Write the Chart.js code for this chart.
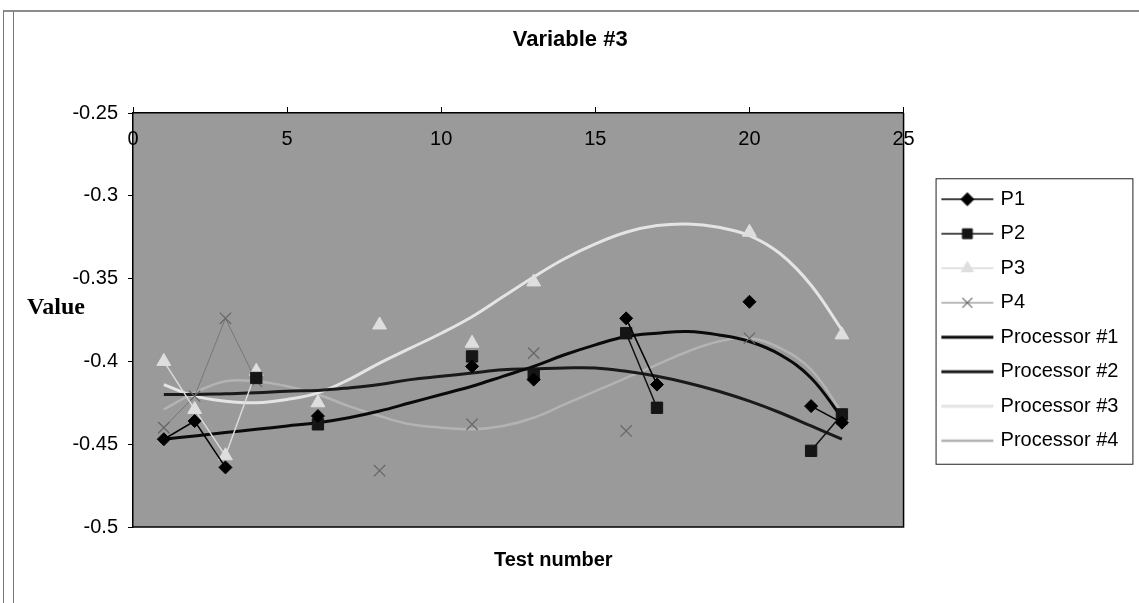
<!DOCTYPE html>
<html>
<head>
<meta charset="utf-8">
<title>Variable #3</title>
<script src="https://cdn.jsdelivr.net/npm/chart.js@4.4.1/dist/chart.umd.min.js"></script>
<style>
	html, body { margin: 0; padding: 0; background: #fff; }
	#wrap { position: relative; width: 1139px; height: 603px; overflow: hidden; }
	#frame { position: absolute; left: 3px; top: 10px; right: -5px; bottom: -5px; border-top: 2px solid #8c8c8c; border-left: 1px solid #777; }
	#frame2 { position: absolute; left: 13px; top: 11px; bottom: -5px; border-left: 1px solid #777; }
	canvas { position: absolute; left: 0; top: 0; }
</style>
</head>
<body>
<div id="wrap">
	<div id="frame"></div>
	<div id="frame2"></div>
	<canvas id="chart" width="1139" height="603"></canvas>
</div>
<script>
// test numbers 1..23, null where a processor has no reading
const tests = [1, 2, 3, 4, 5, 6, 7, 8, 9, 10, 11, 12, 13, 14, 15, 16, 17, 18, 19, 20, 21, 22, 23];

const p1 = [-0.447, -0.436, -0.464, null, null, -0.433, null, null, null, null, -0.403, null, -0.411, null, null, -0.374, -0.414, null, null, -0.364, null, -0.427, -0.437];
const p2 = [null, null, null, -0.410, null, -0.438, null, null, null, null, -0.397, null, -0.408, null, null, -0.383, -0.428, null, null, null, null, -0.454, -0.432];
const p3 = [-0.400, -0.429, -0.457, -0.406, null, -0.425, null, -0.378, null, null, -0.389, null, -0.352, null, null, null, null, null, null, -0.322, null, null, -0.384];
const p4 = [-0.440, -0.421, -0.374, -0.412, null, null, null, -0.466, null, null, -0.438, null, -0.395, null, null, -0.442, null, null, null, -0.386, null, null, -0.435];

// trend curves for each processor
const trend1 = [-0.447, -0.445, -0.443, -0.441, -0.439, -0.437, -0.434, -0.430, -0.425, -0.420, -0.415, -0.409, -0.403, -0.396, -0.390, -0.385, -0.383, -0.382, -0.384, -0.388, -0.396, -0.410, -0.434];
const trend2 = [-0.420, -0.420, -0.4195, -0.419, -0.418, -0.4175, -0.416, -0.414, -0.411, -0.409, -0.407, -0.405, -0.4045, -0.404, -0.404, -0.406, -0.409, -0.413, -0.418, -0.424, -0.431, -0.439, -0.447];
const trend3 = [-0.414, -0.421, -0.424, -0.425, -0.423, -0.419, -0.411, -0.401, -0.392, -0.383, -0.373, -0.361, -0.349, -0.338, -0.329, -0.322, -0.318, -0.317, -0.319, -0.324, -0.335, -0.354, -0.381];
const trend4 = [-0.429, -0.419, -0.412, -0.412, -0.415, -0.420, -0.427, -0.433, -0.438, -0.440, -0.441, -0.439, -0.434, -0.426, -0.418, -0.410, -0.402, -0.394, -0.388, -0.386, -0.392, -0.405, -0.431];

const seriesNames = ['P1', 'P2', 'P3', 'P4', 'Processor #1', 'Processor #2', 'Processor #3', 'Processor #4'];
const xTicks = [0, 5, 10, 15, 20, 25];
const xTickLabels = ['0', '5', '10', '15', '20', '25'];
const yTicks = [-0.5, -0.45, -0.4, -0.35, -0.3, -0.25];
const yTickLabels = ['-0.5', '-0.45', '-0.4', '-0.35', '-0.3', '-0.25'];

const points = (vals) => tests.map((t, i) => ({x: t, y: vals[i]}));

Chart.defaults.font.family = '"Liberation Sans", Arial, sans-serif';
Chart.defaults.color = '#000';

const markerSet = (style, radius, fill, stroke, width) => ({
	pointStyle: style,
	pointRadius: radius,
	pointHoverRadius: radius,
	pointBackgroundColor: fill,
	pointBorderColor: stroke,
	pointBorderWidth: width
});

const datasets = [
	{label: seriesNames[0], data: points(p1), borderColor: '#000', borderWidth: 1.5, ...markerSet('rectRot', 6.5, '#000', '#000', 1)},
	{label: seriesNames[1], data: points(p2), borderColor: '#111', borderWidth: 1.5, ...markerSet('rect', 8, '#151515', '#151515', 1)},
	{label: seriesNames[2], data: points(p3), borderColor: '#d9d9d9', borderWidth: 1.5, ...markerSet('triangle', 8, '#dedede', '#dedede', 1)},
	{label: seriesNames[3], data: points(p4), borderColor: '#777', borderWidth: 1, ...markerSet('crossRot', 8, '#666', '#666', 1.2)},
	{label: seriesNames[4], data: points(trend1), borderColor: '#0a0a0a', borderWidth: 3, tension: 0.4, pointRadius: 0},
	{label: seriesNames[5], data: points(trend2), borderColor: '#1a1a1a', borderWidth: 3, tension: 0.4, pointRadius: 0},
	{label: seriesNames[6], data: points(trend3), borderColor: '#e4e4e4', borderWidth: 3, tension: 0.4, pointRadius: 0},
	{label: seriesNames[7], data: points(trend4), borderColor: '#b3b3b3', borderWidth: 2.5, tension: 0.4, pointRadius: 0}
];

// legend sample: short line with the series marker in the middle
const swatch = (ds) => {
	const c = document.createElement('canvas');
	c.width = 80;
	c.height = 20;
	const g = c.getContext('2d');
	g.strokeStyle = ds.borderColor;
	g.lineWidth = ds.borderWidth;
	g.beginPath();
	g.moveTo(27, 10);
	g.lineTo(79, 10);
	g.stroke();
	if (ds.pointRadius) {
		g.fillStyle = ds.pointBackgroundColor;
		g.strokeStyle = ds.pointBorderColor;
		g.lineWidth = ds.pointBorderWidth;
		Chart.helpers.drawPoint(g, {pointStyle: ds.pointStyle, radius: Math.min(ds.pointRadius, 7), rotation: 0, borderWidth: ds.pointBorderWidth}, 53, 10);
	}
	return c;
};
const swatches = datasets.map(swatch);

const plotFrame = {
	id: 'plotFrame',
	beforeDraw(chart) {
		const {ctx, chartArea: a} = chart;
		ctx.save();
		ctx.fillStyle = '#9a9a9a';
		ctx.fillRect(a.left, a.top, a.right - a.left, a.bottom - a.top);
		ctx.restore();
	},
	afterDraw(chart) {
		const {ctx, chartArea: a, legend} = chart;
		ctx.save();
		ctx.strokeStyle = '#000';
		ctx.lineWidth = 1.5;
		ctx.beginPath();
		ctx.moveTo(a.right, a.top);
		ctx.lineTo(a.right, a.bottom);
		ctx.lineTo(a.left, a.bottom);
		ctx.stroke();

		// box round the legend entries
		const hb = legend.legendHitBoxes;
		const last = hb[hb.length - 1];
		const top = hb[0].top - 11;
		const bottom = last.top + last.height + 13;
		const left = legend.left + 32;
		ctx.lineWidth = 1;
		ctx.strokeStyle = '#222';
		ctx.strokeRect(left + 0.5, top + 0.5, legend.right + 4 - left, bottom - top);

		// axis captions
		ctx.fillStyle = '#000';
		ctx.textAlign = 'center';
		ctx.textBaseline = 'middle';
		ctx.font = 'bold 24px "Liberation Serif", "Times New Roman", serif';
		ctx.fillText('Value', a.left - 77, (a.top + a.bottom) / 2 - 12);
		ctx.font = 'bold 20px "Liberation Sans", Arial, sans-serif';
		ctx.fillText('Test number', (a.left + a.right) / 2 + 35, a.bottom + 33);
		ctx.restore();
	}
};

const chart = new Chart(document.getElementById('chart'), {
	type: 'line',
	data: {datasets: datasets},
	options: {
		responsive: false,
		animation: false,
		spanGaps: false,
		layout: {padding: {left: 12, right: 10.6, top: 0, bottom: 76}},
		scales: {
			x: {
				type: 'linear',
				position: 'top',
				min: 0,
				max: 25,
				afterFit: (s) => { s.height = 59.8; },
				afterBuildTicks: (s) => { s.ticks = xTicks.map(v => ({value: v})); },
				grid: {drawOnChartArea: false, tickLength: 6, color: '#000'},
				border: {color: '#000', width: 1.5},
				ticks: {mirror: true, padding: 14, maxRotation: 0, font: {size: 20}, callback: (v, i) => xTickLabels[i]}
			},
			y: {
				type: 'linear',
				min: -0.5,
				max: -0.25,
				afterFit: (s) => { s.width = 121; },
				afterBuildTicks: (s) => { s.ticks = yTicks.map(v => ({value: v})); },
				grid: {drawOnChartArea: false, tickLength: 5, color: '#000'},
				border: {color: '#000', width: 1.5},
				ticks: {padding: 10, font: {size: 20}, callback: (v, i) => yTickLabels[i]}
			}
		},
		plugins: {
			title: {
				display: true,
				text: 'Variable #3',
				font: {size: 22, weight: 'bold'},
				padding: {top: 26.8, bottom: 0}
			},
			legend: {
				position: 'right',
				fullSize: false,
				labels: {
					usePointStyle: true,
					pointStyleWidth: 72.5,
					padding: 14.5,
					font: {size: 20},
					generateLabels: (c) => c.data.datasets.map((ds, i) => ({
						text: ds.label,
						pointStyle: swatches[i],
						datasetIndex: i,
						hidden: false,
						lineWidth: 0,
						fillStyle: 'transparent',
						strokeStyle: 'transparent',
						fontColor: '#000'
					}))
				}
			},
			tooltip: {enabled: false}
		}
	},
	plugins: [plotFrame]
});
</script>
</body>
</html>
